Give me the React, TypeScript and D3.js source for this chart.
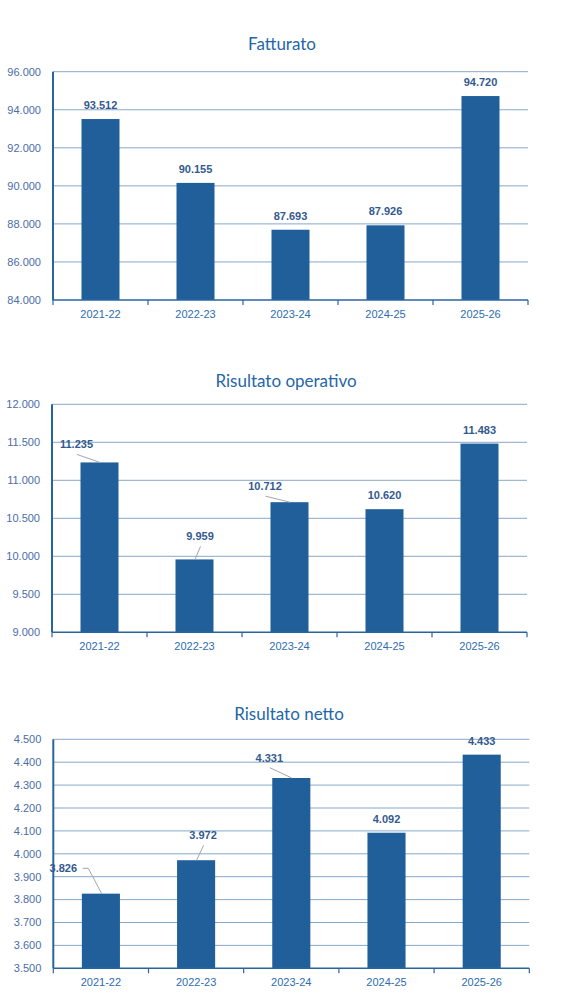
import React from "react";
import * as d3 from "d3";

// categories shared by all three charts
const categories = ["2021-22", "2022-23", "2023-24", "2024-25", "2025-26"];

const titles = ["Fatturato", "Risultato operativo", "Risultato netto"];

const fatturato = [93512, 90155, 87693, 87926, 94720];
const operativo = [11235, 9959, 10712, 10620, 11483];
const netto = [3826, 3972, 4331, 4092, 4433];

const fatturatoTicks = [84000, 86000, 88000, 90000, 92000, 94000, 96000];
const operativoTicks = [9000, 9500, 10000, 10500, 11000, 11500, 12000];
const nettoTicks = [3500, 3600, 3700, 3800, 3900, 4000, 4100, 4200, 4300, 4400, 4500];

// layout of each panel (pixels)
const panels = [
  { left: 53, right: 528, top: 71.7, bottom: 300, titleX: 282, titleY: 50 },
  { left: 52, right: 527, top: 404.3, bottom: 632.3, titleX: 286, titleY: 387 },
  { left: 53.3, right: 529.3, top: 739.3, bottom: 968.3, titleX: 289, titleY: 720 },
];

// data labels moved off the bar with a leader line: dx/dy from bar centre/top
type Moved = { dx: number; dy: number; elbow?: boolean } | null;
const movedLabels: Moved[][] = [
  [null, null, null, null, null],
  [{ dx: -23, dy: -14 }, { dx: 5.5, dy: -19 }, { dx: -24.5, dy: -12 }, null, null],
  [{ dx: -37.6, dy: -22, elbow: true }, { dx: 7, dy: -21 }, { dx: -22, dy: -16.3 }, null, null],
];

const seriesList = [fatturato, operativo, netto];
const tickList = [fatturatoTicks, operativoTicks, nettoTicks];

const it = d3.formatLocale({ decimal: ",", thousands: ".", grouping: [3], currency: ["€", ""] });
const fmt = it.format(",.0f");

const FONT = "'Liberation Sans', Arial, sans-serif";
const BAR = "#215F9A";
const GRID = "#88A8C9";
const AXIS = "#2A64A0";

function Panel({ idx }: { idx: number }) {
  const p = panels[idx];
  const values = seriesList[idx];
  const ticks = tickList[idx];

  const x = d3.scaleBand<string>()
    .domain(categories)
    .range([p.left, p.right])
    .paddingInner(0.6)
    .paddingOuter(0.3);

  const y = d3.scaleLinear()
    .domain([ticks[0], ticks[ticks.length - 1]])
    .range([p.bottom, p.top]);

  const step = x.step();
  const boundaries = d3.range(categories.length + 1).map((i) => p.left + i * step);

  return (
    <g>
      <text
        x={p.titleX}
        y={p.titleY}
        textAnchor="middle"
        fontFamily="Lato, 'Open Sans', sans-serif"
        fontSize={17}
        fill="#2566A8"
      >
        {titles[idx]}
      </text>

      {/* gridlines */}
      {ticks.slice(1).map((t) => (
        <line key={t} x1={p.left} x2={p.right} y1={y(t)} y2={y(t)} stroke={GRID} strokeWidth={1} />
      ))}

      {/* y tick labels */}
      {ticks.map((t) => (
        <text
          key={"l" + t}
          x={p.left - 12}
          y={y(t)}
          dy="0.35em"
          textAnchor="end"
          fontFamily={FONT}
          fontSize={11}
          fill="#4A6DA7"
        >
          {fmt(t)}
        </text>
      ))}

      {/* bars */}
      {values.map((v, i) => (
        <rect
          key={categories[i]}
          x={x(categories[i])}
          y={y(v)}
          width={x.bandwidth()}
          height={p.bottom - y(v)}
          fill={BAR}
        />
      ))}

      {/* axes */}
      <line x1={p.left} x2={p.left} y1={p.top} y2={p.bottom} stroke={AXIS} strokeWidth={2} />
      <line x1={p.left} x2={p.right} y1={p.bottom} y2={p.bottom} stroke={AXIS} strokeWidth={1.5} />
      {boundaries.map((bx, i) => (
        <line key={"t" + i} x1={bx} x2={bx} y1={p.bottom} y2={p.bottom + 5} stroke={AXIS} strokeWidth={1.2} />
      ))}

      {/* category labels */}
      {categories.map((c) => (
        <text
          key={"c" + c}
          x={(x(c) as number) + x.bandwidth() / 2}
          y={p.bottom + 18}
          textAnchor="middle"
          fontFamily={FONT}
          fontSize={11}
          fill="#2E6CB0"
        >
          {c}
        </text>
      ))}

      {/* data labels */}
      {values.map((v, i) => {
        const cx = (x(categories[i]) as number) + x.bandwidth() / 2;
        const top = y(v);
        const m = movedLabels[idx][i];
        const lx = m ? cx + m.dx : cx;
        const ly = m ? top + m.dy : top - 10;
        let leader: string | null = null;
        if (m) {
          if (m.elbow) {
            const sx = lx + 19.4;
            const sy = ly - 3.3;
            leader = `M${sx},${sy}L${sx + 5.6},${sy}L${cx + 0.8},${top}`;
          } else {
            leader = `M${lx + 0.5},${ly + 6}L${cx + 0.5},${top}`;
          }
        }
        return (
          <g key={"v" + i}>
            {leader && <path d={leader} fill="none" stroke="#A6A6A6" strokeWidth={1} />}
            <text
              x={lx}
              y={ly}
              textAnchor="middle"
              fontFamily={FONT}
              fontSize={11}
              fontWeight="bold"
              fill="#335A8F"
            >
              {fmt(v)}
            </text>
          </g>
        );
      })}
    </g>
  );
}

export default function App() {
  return (
    <svg
      width={579}
      height={1006}
      style={{ position: "absolute", left: 0, top: 0, background: "#fff" }}
    >
      {panels.map((_, i) => (
        <Panel key={i} idx={i} />
      ))}
    </svg>
  );
}
